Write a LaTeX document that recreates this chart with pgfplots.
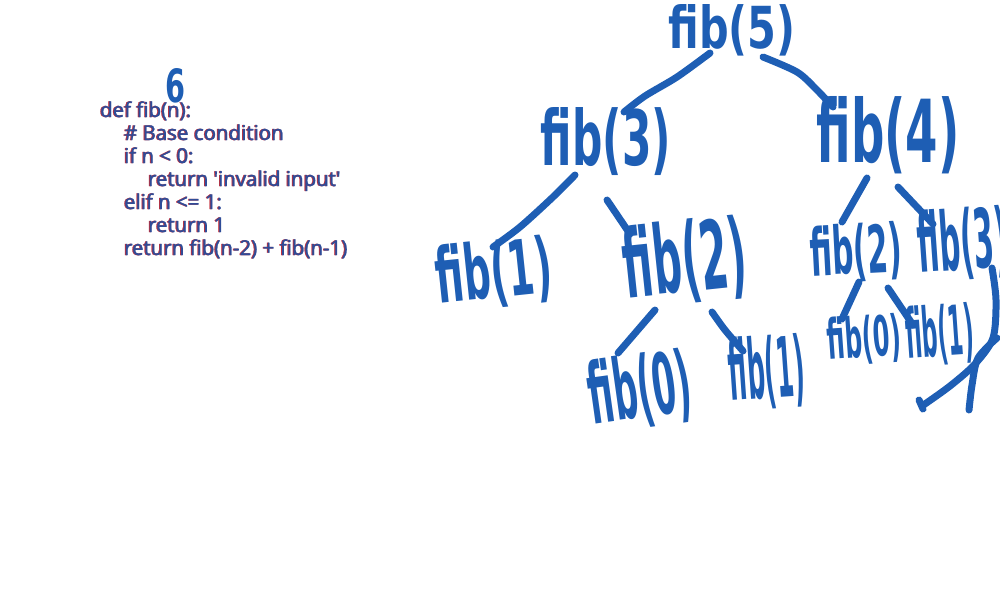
\documentclass[border=0pt]{standalone}
\usepackage{pgfplots}
\pgfplotsset{compat=1.18}
\usepackage{fontspec}
\setmainfont{Open Sans}[FakeBold=1.2]
\newfontfamily\hwfont{DejaVu Sans}[BoldFont={* Bold}]
\definecolor{hwblue}{HTML}{1E5EB4}
\definecolor{codeblue}{HTML}{2F4C98}
\definecolor{codered}{HTML}{C2303C}
\newcommand{\hw}[6]{\node[text=hwblue,rotate=#5,inner sep=0pt] at (axis cs:#1,#2) {\resizebox{#3pt}{#4pt}{\hwfont\bfseries #6}};}
\newcommand{\code}[3]{%
  \node[anchor=base west,inner sep=0pt,text=codered] at (axis cs:#1-0.9,#2) {\fontsize{20.5}{22}\selectfont #3};
  \node[anchor=base west,inner sep=0pt,text=codeblue] at (axis cs:#1,#2) {\fontsize{20.5}{22}\selectfont #3};}
\begin{document}
\begin{tikzpicture}
\path[use as bounding box] (0,0) rectangle (1000pt,600pt);
\begin{axis}[at={(0,0)},anchor=south west,
  width=1000pt,height=600pt,scale only axis,
  xmin=0,xmax=1000,ymin=0,ymax=600,y dir=reverse,
  hide axis,clip=true,
  stroke/.style={hwblue,line width=7pt,line cap=round,line join=round,smooth,mark=none}]
% code
\code{100}{117}{def fib(n):}
\code{124}{140}{\# Base condition}
\code{124}{163}{if n < 0:}
\code{148}{186}{return \textquotesingle invalid input\textquotesingle}
\code{124}{209}{elif n <= 1:}
\code{148}{232}{return 1}
\code{124}{255}{return fib(n-2) + fib(n-1)}
% tree edges
\addplot[stroke] coordinates {(710,53) (677,77) (645,96) (624,112)};
\addplot[stroke] coordinates {(763,57) (797,72) (816,89) (833,107)};
\addplot[stroke] coordinates {(575,175) (553,197) (520,227) (493,247)};
\addplot[stroke] coordinates {(607,200) (630,234)};
\addplot[stroke] coordinates {(655,310) (618,353)};
\addplot[stroke] coordinates {(712,312) (725,330) (743,351)};
\addplot[stroke] coordinates {(867,178) (842,222)};
\addplot[stroke] coordinates {(898,187) (933,224)};
\addplot[stroke] coordinates {(859,282) (842,319)};
\addplot[stroke] coordinates {(888,288) (913,325)};
\addplot[stroke] coordinates {(992,268) (996,300) (993,338) (975,364) (950,386) (922,406)};
\addplot[stroke] coordinates {(919,400) (923,409)};
\addplot[stroke] coordinates {(997,338) (978,358) (972,385) (969,410)};
% labels
\hw{732}{30}{127}{44}{0}{fib(5)}
\hw{606}{142}{130}{58}{0}{fib(3)}
\hw{888}{135}{143}{66}{0}{fib(4)}
\hw{494}{274}{116}{58}{6}{fib(1)}
\hw{685}{262}{123}{72}{6}{fib(2)}
\hw{640}{391}{104}{64}{8}{fib(0)}
\hw{767}{372}{76}{63}{4}{fib(1)}
\hw{856}{253}{92}{50}{3}{fib(2)}
\hw{963}{244}{90}{62}{4}{fib(3)}
\hw{864}{340}{74}{42}{4}{fib(0)}
\hw{940}{335}{68}{52}{4}{fib(1)}
\hw{175}{86}{20}{34}{0}{6}
\end{axis}
\end{tikzpicture}
\end{document}
